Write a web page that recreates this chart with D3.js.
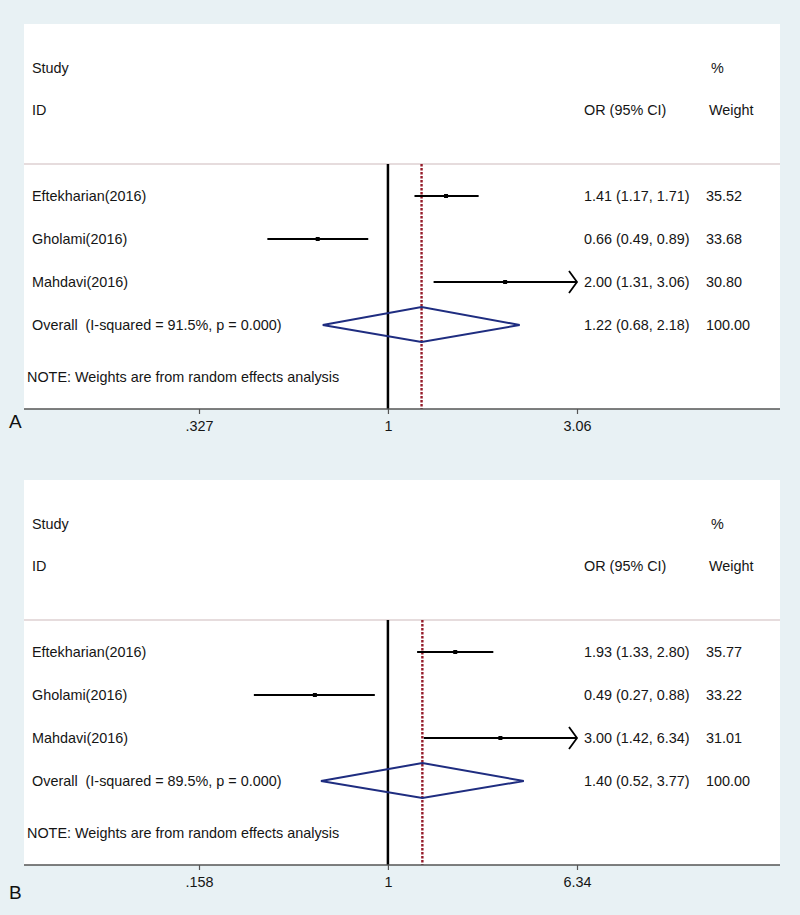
<!DOCTYPE html>
<html><head><meta charset="utf-8">
<script src="https://cdnjs.cloudflare.com/ajax/libs/d3/7.8.5/d3.min.js"></script>
<style>
html,body{margin:0;padding:0;background:#e8f1f4;}
svg{display:block;font-family:"Liberation Sans",Arial,sans-serif;}
svg text{white-space:pre;}
</style></head>
<body>
<svg id="chart" width="800" height="915"></svg>
<script>
// ---- data ----
const studies = ["Eftekharian(2016)", "Gholami(2016)", "Mahdavi(2016)"];
const panelLabels = ["A", "B"];
const orA = [1.41, 0.66, 2.00];
const loA = [1.17, 0.49, 1.31];
const hiA = [1.71, 0.89, 3.06];
const weightA = ["35.52", "33.68", "30.80"];
const overallA = [1.22, 0.68, 2.18];
const i2A = "91.5%";
const ticksA = [0.327, 1, 3.06];
const tickLabelsA = [".327", "1", "3.06"];

const orB = [1.93, 0.49, 3.00];
const loB = [1.33, 0.27, 1.42];
const hiB = [2.80, 0.88, 6.34];
const weightB = ["35.77", "33.22", "31.01"];
const overallB = [1.40, 0.52, 3.77];
const i2B = "89.5%";
const ticksB = [0.158, 1, 6.34];
const tickLabelsB = [".158", "1", "6.34"];

const panels = [
  {label: panelLabels[0], or: orA, lo: loA, hi: hiA, w: weightA, ov: overallA, i2: i2A, ticks: ticksA, tl: tickLabelsA, dy: 0, labY: 421},
  {label: panelLabels[1], or: orB, lo: loB, hi: hiB, w: weightB, ov: overallB, i2: i2B, ticks: ticksB, tl: tickLabelsB, dy: 456, labY: 892}
];

const svg = d3.select("#chart");
const fmt = d3.format(".2f");
const FS = 14.4;

panels.forEach(p => {
  const g = svg.append("g").attr("transform", `translate(0,${p.dy})`);
  const tmax = p.ticks[2];
  const x = d3.scaleLog().domain([p.ticks[0], tmax]).range([199, 577]);
  const y = d3.scaleLinear().domain([0, 3]).range([196, 325]);
  const top = 164, axisY = 409;

  // white plot region
  g.append("rect").attr("x", 24).attr("y", 24).attr("width", 756).attr("height", axisY - 24).attr("fill", "#ffffff");

  // headers
  const txt = (xx, yy, s, anchor) => g.append("text").attr("x", xx).attr("y", yy + 5)
      .attr("font-size", FS).attr("fill", "#151515").attr("text-anchor", anchor || "start").text(s);
  txt(32, 68, "Study");
  txt(32, 110, "ID");
  txt(711, 68, "%");
  txt(584, 110, "OR (95% CI)");
  txt(709, 110, "Weight");

  // header separator
  g.append("line").attr("x1", 24).attr("x2", 780).attr("y1", top).attr("y2", top)
    .attr("stroke", "#e6dcdd").attr("stroke-width", 2);

  // null line at 1
  g.append("line").attr("x1", x(1)).attr("x2", x(1)).attr("y1", top).attr("y2", axisY)
    .attr("stroke", "#000").attr("stroke-width", 2.5);

  // overall dashed line
  g.append("line").attr("x1", x(p.ov[0])).attr("x2", x(p.ov[0])).attr("y1", top).attr("y2", axisY)
    .attr("stroke", "#951c2a").attr("stroke-width", 2.4).attr("stroke-dasharray", "2.5,1.5");

  // study rows
  studies.forEach((s, i) => {
    const yy = y(i);
    txt(32, yy, s);
    const hiClip = Math.min(p.hi[i], tmax);
    g.append("line").attr("x1", x(p.lo[i])).attr("x2", x(hiClip)).attr("y1", yy).attr("y2", yy)
      .attr("stroke", "#000").attr("stroke-width", 2);
    if (p.hi[i] >= tmax) {
      const ax = x(tmax);
      g.append("path").attr("d", `M${ax - 8},${yy - 11} L${ax},${yy} L${ax - 8},${yy + 11}`)
        .attr("fill", "none").attr("stroke", "#000").attr("stroke-width", 1.8);
    }
    g.append("rect").attr("x", x(p.or[i]) - 2).attr("y", yy - 2).attr("width", 4).attr("height", 4).attr("fill", "#000");
    txt(584, yy, `${fmt(p.or[i])} (${fmt(p.lo[i])}, ${fmt(p.hi[i])})`);
    txt(706, yy, p.w[i]);
  });

  // overall diamond
  const oy = y(3);
  txt(32, oy, `Overall  (I-squared = ${p.i2}, p = 0.000)`);
  const dpts = [[x(p.ov[1]), oy], [x(p.ov[0]), oy - 18], [x(p.ov[2]), oy], [x(p.ov[0]), oy + 17]];
  g.append("path").attr("d", d3.line()(dpts) + "Z").attr("fill", "none")
    .attr("stroke", "#1f2d80").attr("stroke-width", 2);
  txt(584, oy, `${fmt(p.ov[0])} (${fmt(p.ov[1])}, ${fmt(p.ov[2])})`);
  txt(706, oy, "100.00");

  // note
  txt(27, 377, "NOTE: Weights are from random effects analysis");

  // axis
  g.append("line").attr("x1", 24).attr("x2", 780).attr("y1", axisY).attr("y2", axisY)
    .attr("stroke", "#555").attr("stroke-width", 1.5);
  const axis = d3.axisBottom(x).tickValues(p.ticks).tickFormat((d, i) => p.tl[i]).tickSizeOuter(0).tickSize(5).tickPadding(7);
  const ag = g.append("g").attr("transform", `translate(0,${axisY})`).call(axis);
  ag.select(".domain").remove();
  ag.selectAll(".tick line").attr("stroke", "#555").attr("stroke-width", 1.2);
  ag.selectAll(".tick text").attr("font-size", FS).attr("fill", "#151515")
    .attr("font-family", "Liberation Sans, Arial, sans-serif");

  // panel label
  svg.append("text").attr("x", 9).attr("y", p.labY + 7).attr("font-size", 19)
    .attr("fill", "#111").text(p.label);
});
</script>
</body></html>
